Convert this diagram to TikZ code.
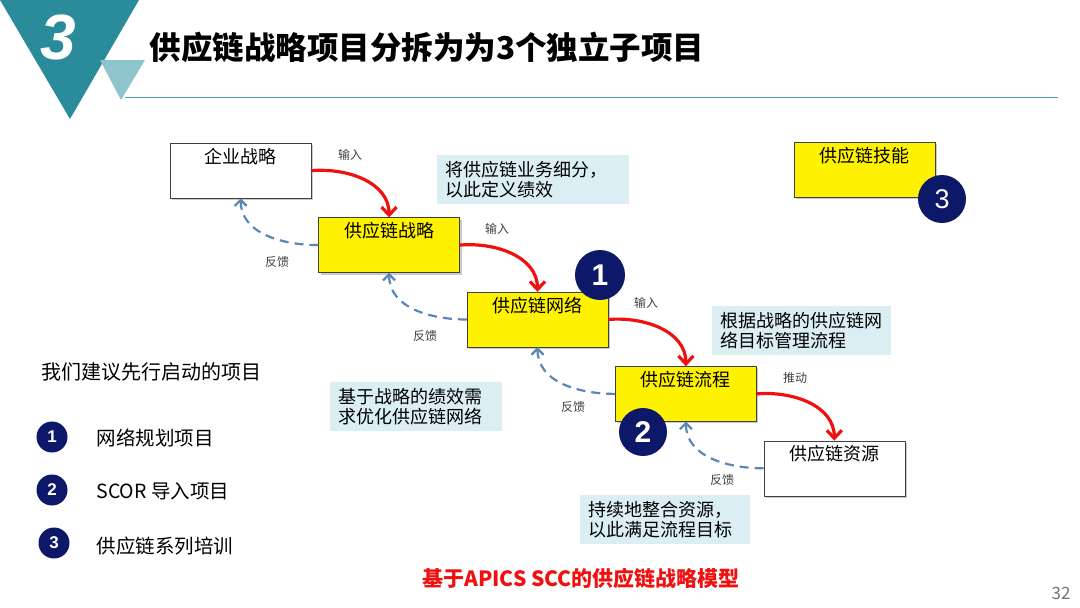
\documentclass[tikz,border=0pt]{standalone}
\usepackage{fontspec}
\setmainfont{Noto Sans CJK SC}
\newfontfamily\numfont{Liberation Sans}
\usetikzlibrary{arrows.meta, positioning, shadows}

\definecolor{tealdark}{HTML}{2A8C9B}
\definecolor{teallight}{HTML}{8EC4CB}
\definecolor{navy}{HTML}{0E1868}
\definecolor{notebg}{HTML}{DBEEF3}
\definecolor{fbblue}{HTML}{5A86B6}
\definecolor{inred}{HTML}{F01010}

\begin{document}
\begin{tikzpicture}[x=1pt, y=-1pt,
  box/.style={draw=black!75, minimum width=141pt, minimum height=55pt,
              text height=16pt, text depth=31pt, inner ysep=4pt, anchor=north west,
              font=\fontsize{18}{20}\selectfont,
              drop shadow={shadow xshift=2pt, shadow yshift=-2pt, opacity=0.35, fill=black!60}},
  ybox/.style={box, fill=yellow},
  wbox/.style={box, fill=white},
  note/.style={fill=notebg, anchor=north west, align=left, text width=#1,
               inner xsep=8pt, inner ysep=6pt, font=\fontsize{18}{20}\selectfont},
  lbl/.style={text=black!75, font=\fontsize{12}{12}\selectfont},
  numc/.style={circle, fill=navy, text=white, minimum size=#1, inner sep=0pt},
  inarr/.style={-{Straight Barb[length=8pt, width=15pt]}, line width=3.2pt, inred},
  fbarr/.style={-{Straight Barb[length=6pt, width=12pt]}, line width=2.2pt, fbblue,
                dash pattern=on 9pt off 6pt},
  node distance=19pt and 7pt
]
  \useasboundingbox (0,0) rectangle (1080,608);

  \fill[tealdark] (0,0) -- (139,0) -- (70,119) -- cycle;
  \fill[teallight] (100,60) -- (145,60) -- (121,100) -- cycle;
  \draw[tealdark!85, line width=1pt] (125,97) -- (1058,97);
  \node[text=white, font=\numfont\bfseries\itshape\fontsize{64}{64}\selectfont] (secnum) at (58,37) {3};
  \node[anchor=west, font=\bfseries\fontsize{31.5}{31.5}\selectfont] (title) at (146,47) {供应链战略项目分拆为为3个独立子项目};

  \node[wbox] (ent) at (170,143) {企业战略};
  \node[ybox, below right=of ent] (str) {供应链战略};
  \node[ybox, below right=of str] (net) {供应链网络};
  \node[ybox, below right=of net] (proc) {供应链流程};
  \node[wbox, below right=of proc] (res) {供应链资源};
  \node[ybox] (skill) at (794,142) {供应链技能};

  \node[numc=50pt, font=\numfont\bfseries\fontsize{30}{30}\selectfont] (c1) at (600,275) {1};
  \node[numc=48pt, font=\numfont\bfseries\fontsize{30}{30}\selectfont] (c2) at (643,432) {2};
  \node[numc=48pt, font=\numfont\fontsize{27}{27}\selectfont] (c3) at (942,199) {3};

  \node[note=176pt] (n1) at (437,155) {将供应链业务细分，\\以此定义绩效};
  \node[note=163pt] (n2) at (712,306) {根据战略的供应链网\\络目标管理流程};
  \node[note=156pt] (n3) at (330,382) {基于战略的绩效需\\求优化供应链网络};
  \node[note=154pt] (n4) at (580,495) {持续地整合资源，\\以此满足流程目标};

  \draw[inarr] (ent.east) to[out=5, in=90] (str.north);
  \draw[inarr] (str.east) to[out=5, in=90] (net.north);
  \draw[inarr] (net.east) to[out=5, in=90] (proc.north);
  \draw[inarr] (proc.east) to[out=5, in=90] (res.north);

  \draw[fbarr] (str.west) to[out=180, in=-90] (ent.south);
  \draw[fbarr] (net.west) to[out=180, in=-90] (str.south);
  \draw[fbarr] (proc.west) to[out=180, in=-90] (net.south);
  \draw[fbarr] (res.west) to[out=180, in=-90] (proc.south);

  \node[lbl] (in1) at (350,155) {输入};
  \node[lbl] (in2) at (497,229) {输入};
  \node[lbl] (in3) at (646,303) {输入};
  \node[lbl] (push) at (795,378) {推动};
  \node[lbl] (fb1) at (277,262) {反馈};
  \node[lbl] (fb2) at (425,336) {反馈};
  \node[lbl] (fb3) at (573,407) {反馈};
  \node[lbl] (fb4) at (722,480) {反馈};

  \node[anchor=west, font=\fontsize{20}{20}\selectfont] (rec) at (38,372) {我们建议先行启动的项目};
  \node[numc=31pt, font=\numfont\bfseries\fontsize{17}{17}\selectfont] (l1) at (52,437) {1};
  \node[numc=31pt, font=\numfont\bfseries\fontsize{17}{17}\selectfont] (l2) at (52,490) {2};
  \node[numc=31pt, font=\numfont\bfseries\fontsize{17}{17}\selectfont] (l3) at (54,543) {3};
  \node[anchor=west, font=\fontsize{19.5}{20}\selectfont] (p1) at (93,438) {网络规划项目};
  \node[anchor=west, font=\fontsize{19.5}{20}\selectfont] (p2) at (93,491) {SCOR 导入项目};
  \node[anchor=west, font=\fontsize{19.5}{20}\selectfont] (p3) at (93,546) {供应链系列培训};

  \node[text=inred, font=\bfseries\fontsize{21}{21}\selectfont] (cap) at (581,578) {基于APICS SCC的供应链战略模型};
  \node[anchor=east, text=black!55, font=\fontsize{17}{17}\selectfont] (page) at (1074,593) {32};
\end{tikzpicture}
\end{document}
